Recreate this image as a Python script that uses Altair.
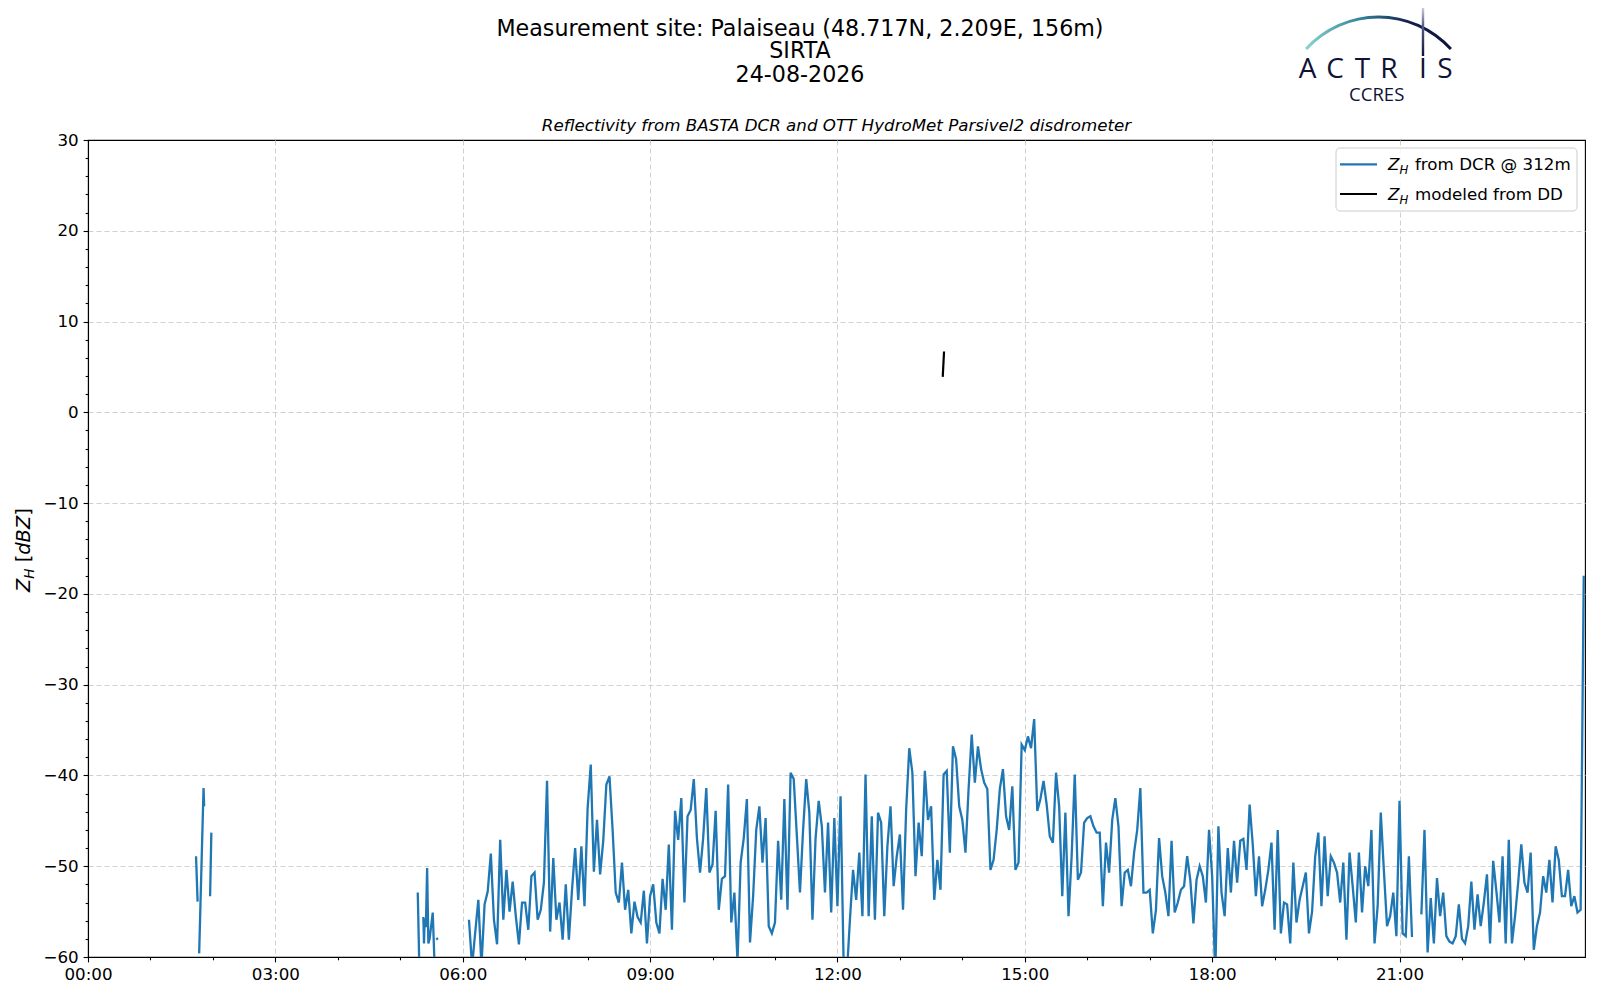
import altair as alt
import pandas as pd

# ---------------- data ----------------
# sparse early-morning DCR samples: hour of day / dBZ (None = gap)
EARLY_H = [1.73, 1.755, None, 1.78, 1.85, 1.86, None, 1.955, 1.975, None,
           5.28, 5.305, None, 5.37, 5.38, 5.39, 5.41, 5.43, 5.45, 5.47, 5.52, 5.55, None, 5.58, 5.60, None]
EARLY_V = [-48.9, -53.9, None, -59.6, -41.4, -43.4, None, -53.3, -46.3, None,
           -52.9, -61.0, None, -55.6, -58.5, -55.8, -56.7, -50.2, -58.5, -58.0, -55.1, -61.0, None, -57.9, -58.1, None]

# 3-minute DCR samples from 06:00, one list per hour (20 values each)
H06 = [None, None, -55.9, -61, -57.3, -53.7, -61, -54.2, -52.8, -48.6, -55.9, -58.6, -47.1, -55.9, -50.4, -55.0, -51.7, -55.5, -58.6, -54.0]
H07 = [-54.0, -57.0, -51.1, -50.7, -55.9, -54.8, -51.8, -40.6, -57.2, -49.1, -55.9, -54.0, -58.1, -52.0, -58.1, -52.6, -48.0, -53.7, -47.8, -54.4]
H08 = [-43.6, -38.8, -50.6, -44.9, -50.9, -47.2, -41.0, -40.1, -46.0, -52.9, -54.0, -49.6, -54.8, -52.6, -57.4, -53.9, -55.6, -56.2, -52.7, -58.5]
H09 = [-53.3, -52.0, -56.2, -57.4, -51.4, -54.8, -47.6, -57.0, -43.9, -47.1, -42.5, -54.0, -44.5, -43.8, -40.4, -46.9, -50.7, -46.9, -41.4, -50.7]
H10 = [-49.8, -43.9, -54.8, -51.4, -51.1, -41.0, -56.2, -52.9, -60.5, -49.6, -46.9, -42.6, -58.4, -53.3, -46.0, -43.4, -49.6, -44.7, -56.6, -57.4]
H11 = [-56.2, -47.2, -53.7, -42.6, -54.8, -39.7, -40.4, -46.6, -52.9, -46.0, -40.4, -44.1, -55.9, -46.9, -42.8, -45.6, -52.9, -45.2, -55.1, -44.7]
H12 = [-54.4, -42.3, -61, -62, -55.9, -50.4, -53.7, -48.5, -55.5, -39.9, -55.5, -44.5, -55.9, -44.1, -45.2, -55.5, -47.8, -43.4, -52.2, -48.9]
H13 = [-46.5, -54.8, -43.8, -37.0, -39.7, -51.1, -45.2, -48.9, -39.5, -44.9, -43.4, -53.7, -49.3, -52.6, -39.9, -39.5, -48.5, -36.8, -38.2, -43.4]
H14 = [-44.9, -48.5, -41.5, -35.5, -40.8, -36.8, -39.3, -40.8, -41.5, -50.4, -49.3, -46.0, -41.5, -39.3, -44.5, -46.0, -41.2, -50.4, -49.6, -36.6]
H15 = [-37.2, -35.7, -37.0, -33.8, -43.9, -42.6, -40.6, -43.2, -46.7, -47.4, -39.7, -43.4, -53.3, -44.1, -55.5, -48.9, -39.9, -51.5, -50.7, -45.2]
H16 = [-44.7, -44.5, -45.6, -46.3, -46.3, -54.4, -47.4, -50.7, -44.9, -42.5, -45.6, -54.4, -50.7, -50.4, -52.2, -48.5, -46.0, -41.4, -52.9, -52.9]
H17 = [-52.6, -57.4, -54.8, -46.9, -51.1, -52.9, -55.5, -47.2, -55.1, -54.0, -52.6, -52.2, -48.9, -51.5, -56.3, -51.5, -50.0, -51.1, -54.0, -46.0]
H18 = [-51.1, -62, -45.6, -52.9, -55.5, -48.0, -52.9, -47.2, -51.8, -47.2, -47.0, -50.4, -43.2, -47.6, -53.3, -48.9, -54.4, -52.6, -50.4, -47.4]
H19 = [-57.0, -46.0, -57.4, -54.0, -54.2, -58.5, -49.6, -56.2, -53.7, -52.2, -50.7, -57.4, -55.0, -48.9, -46.3, -54.4, -46.7, -53.3, -48.9, -49.6]
H20 = [-50.7, -54.0, -49.6, -58.1, -48.5, -52.2, -56.2, -48.5, -55.1, -50.0, -52.2, -46.0, -58.5, -54.4, -44.1, -50.5, -56.6, -55.5, -52.9, -57.7]
H21 = [-42.8, -57.4, -57.7, -48.9, -57.8, None, None, -55.3, -46.0, -59.5, -53.5, -58.5, -51.3, -55.5, -52.9, -57.7, -58.3, -58.5, -57.7, -54.2]
H22 = [-58.0, -58.5, -56.6, -51.7, -57.0, -53.1, -56.6, -54.0, -50.9, -58.5, -49.4, -52.7, -56.2, -48.9, -58.5, -47.1, -58.5, -55.5, -51.8, -47.6]
H23 = [-51.8, -52.9, -48.5, -59.2, -56.6, -55.1, -51.1, -52.9, -49.3, -54.0, -47.8, -49.3, -53.3, -53.3, -50.4, -54.4, -53.3, -55.1, -54.8, -18.0]
HOURLY = [H06, H07, H08, H09, H10, H11, H12, H13, H14, H15, H16, H17, H18, H19, H20, H21, H22, H23]
FIRST_HOUR = 6
STEP_H = 0.05  # 3 minutes

# disdrometer-modelled reflectivity (hour, dBZ)
DD_H = [13.686, 13.707]
DD_V = [3.9, 6.7]

Y_TICKS = list(range(-60, 31, 2))
X_TICKS = list(range(0, 24))

TITLE_LINES = ["Measurement site: Palaiseau (48.717N, 2.209E, 156m)", "SIRTA", "24-08-2026"]
SUBTITLE = "Reflectivity from BASTA DCR and OTT HydroMet Parsivel2 disdrometer"
LEG1 = "from DCR @ 312m"
LEG2 = "modeled from DD"
LOGO_LETTERS = ["A", "C", "T", "R", "I", "S"]

# ---------------- build tables ----------------
rows = []
seg = 0
def add(h, v):
    global seg
    if v is None or h is None:
        seg += 1
    else:
        rows.append({"h": h, "v": v, "seg": seg})

for h, v in zip(EARLY_H, EARLY_V):
    add(h, v)
for k, lst in enumerate(HOURLY):
    for i, v in enumerate(lst):
        add(FIRST_HOUR + k + i * STEP_H, v)
dcr = pd.DataFrame(rows)
dd = pd.DataFrame({"h": DD_H, "v": DD_V})

W, H = 1497, 817
BLUE = "#1f77b4"
NAVY = "#0e1338"
FONT = "DejaVu Sans"

xscale = alt.Scale(domain=[0, 23.97], nice=False, zero=False)
yscale = alt.Scale(domain=[-60, 30], nice=False, zero=False)

xaxis = alt.Axis(
    values=X_TICKS, tickCount=200, format="d",
    labelExpr="datum.value % 3 === 0 ? (datum.value < 10 ? '0' : '') + datum.value + ':00' : ''",
    tickSize={"condition": {"test": "datum.value % 3 === 0", "value": 4.9}, "value": 2.8},
    gridOpacity={"condition": {"test": "datum.value % 3 === 0 && datum.value > 0", "value": 1}, "value": 0},
    labelOverlap=False, labelFlush=False, title=None,
)
yaxis = alt.Axis(
    values=Y_TICKS, tickCount=200, format="d",
    labelExpr="datum.value % 10 === 0 ? replace(datum.label, '-', '\u2212') : ''",
    tickSize={"condition": {"test": "datum.value % 10 === 0", "value": 4.9}, "value": 2.8},
    gridOpacity={"condition": {"test": "datum.value % 10 === 0 && datum.value > -60 && datum.value < 30",
                               "value": 1}, "value": 0},
    labelOverlap=False, labelFlush=False, title=None,
)

line_dcr = alt.Chart(dcr).mark_line(color=BLUE, strokeWidth=2.3, clip=True).encode(
    x=alt.X("h:Q", scale=xscale, axis=xaxis),
    y=alt.Y("v:Q", scale=yscale, axis=yaxis),
    detail="seg:N",
    order="h:Q",
)
line_dd = alt.Chart(dd).mark_line(color="black", strokeWidth=2.2, clip=True).encode(
    x=alt.X("h:Q", scale=xscale, axis=xaxis),
    y=alt.Y("v:Q", scale=yscale, axis=yaxis),
)

one = pd.DataFrame({"k": [0]})

def txt(s, x, y, size, font=FONT, style="normal", weight="normal", align="center",
        baseline="middle", color="black", angle=None):
    kw = dict(fontSize=size, font=font, fontStyle=style, fontWeight=weight,
              align=align, baseline=baseline, color=color)
    if angle is not None:
        kw["angle"] = angle
    return alt.Chart(pd.DataFrame({"t": [s]})).mark_text(**kw).encode(
        text="t:N", x=alt.value(x), y=alt.value(y))

# plot-area coordinates: origin at the top-left corner of the axes
layers = [line_dcr, line_dd]

# titles
layers += [txt(TITLE_LINES[0], 712, -111.4, 22.2),
           txt(TITLE_LINES[1], 712, -88.6, 22.2),
           txt(TITLE_LINES[2], 712, -65.2, 22.2),
           txt(SUBTITLE, 748.5, -14.5, 16.7, style="italic")]

# y axis title  Z_H [dBZ]
layers += [txt("Z", -58, 452, 19.4, style="italic", align="left", baseline="alphabetic", angle=270),
           txt("H", -54, 438.7, 13.6, style="italic", align="left", baseline="alphabetic", angle=270),
           txt("[", -58, 422.3, 19.4, align="left", baseline="alphabetic", angle=270),
           txt("dBZ", -58, 414.7, 19.4, style="italic", align="left", baseline="alphabetic", angle=270),
           txt("]", -58, 375.8, 19.4, align="left", baseline="alphabetic", angle=270)]

# legend
legend_box = alt.Chart(one).mark_rect(fill="white", fillOpacity=0.85, stroke="#cccccc",
                                      strokeWidth=1, cornerRadius=4).encode(
    x=alt.value(1248), x2=alt.value(1489), y=alt.value(8), y2=alt.value(71))
leg_l1 = alt.Chart(one).mark_rule(color=BLUE, strokeWidth=2.2).encode(
    x=alt.value(1252), x2=alt.value(1289), y=alt.value(24.3))
leg_l2 = alt.Chart(one).mark_rule(color="black", strokeWidth=2.2).encode(
    x=alt.value(1252), x2=alt.value(1289), y=alt.value(54))
layers += [legend_box, leg_l1, leg_l2]
for yb, lab in [(30.4, LEG1), (60.1, LEG2)]:
    layers += [txt("Z", 1300, yb, 16.7, style="italic", align="left", baseline="alphabetic"),
               txt("H", 1311.5, yb + 3.5, 11.7, style="italic", align="left", baseline="alphabetic"),
               txt(lab, 1327, yb, 16.7, align="left", baseline="alphabetic")]

# ACTRIS / CCRES logo
arc_grad = alt.Gradient(gradient="linear", x1=0, x2=1, y1=0, y2=0, stops=[
    alt.GradientStop(offset=0, color="#8ad5cf"),
    alt.GradientStop(offset=0.4, color="#2f7f96"),
    alt.GradientStop(offset=0.7, color="#142050"),
    alt.GradientStop(offset=1, color=NAVY)])
logo_arc = alt.Chart(one).mark_arc(innerRadius=96.5, outerRadius=99.5,
                                   theta=5.452, theta2=7.114, fill=arc_grad).encode(
    x=alt.value(1290.5), y=alt.value(-25))
stem_grad = alt.Gradient(gradient="linear", x1=0, x2=0, y1=0, y2=1, stops=[
    alt.GradientStop(offset=0, color="#ffffff"),
    alt.GradientStop(offset=0.45, color="#5a5f82"),
    alt.GradientStop(offset=1, color=NAVY)])
logo_stem = alt.Chart(one).mark_rect(fill=stem_grad).encode(
    x=alt.value(1333.8), x2=alt.value(1336.2), y=alt.value(-140), y2=alt.value(-84))
layers += [logo_arc, logo_stem]
for letter, lx in zip(LOGO_LETTERS, [1219.5, 1247, 1274.5, 1301, 1335, 1357]):
    layers.append(txt(letter, lx, -61.7, 28, font="Open Sans", align="center",
                      baseline="alphabetic", color=NAVY))
layers.append(txt("CCRES", 1288.7, -39.5, 18.5, font="Open Sans", align="center",
                  baseline="alphabetic", color=NAVY))

chart = alt.layer(*layers).properties(
    width=W, height=H,
    padding={"left": 80, "top": 132, "right": 7, "bottom": 35},
    autosize=alt.AutoSizeParams(type="none"),
).configure_view(
    stroke="black", strokeWidth=1.1
).configure_axis(
    domainColor="black", domainWidth=1.1, tickColor="black", tickWidth=1.1,
    labelFont=FONT, labelFontSize=16.7, labelColor="black", labelPadding=4.9,
    gridColor="#d0d0d0", gridDash=[5, 3], gridWidth=1,
)

chart.save("out.html", embed_options={"renderer": "svg", "actions": False})
